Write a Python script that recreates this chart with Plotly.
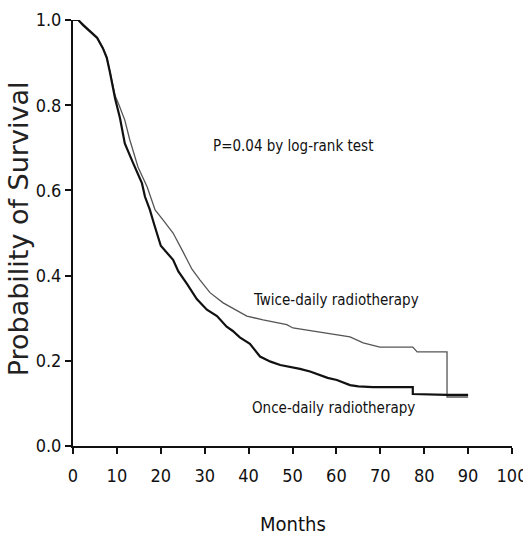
import plotly.graph_objects as go

# Kaplan-Meier estimates (months, probability of survival)
once_months = [0, 1.2, 2.3, 3.9, 5.5, 6.8, 7.7, 8.4, 9.6, 10.7, 11.8, 13.7, 15.7, 16.4, 17.5,
               18.5, 20.0, 22.8, 24.0, 26.0, 28.2, 30.5, 32.8, 35.0, 36.4, 38.0, 40.3, 42.6,
               45.0, 47.2, 50.0, 51.7, 54.0, 56.3, 58.0, 60.1, 63.1, 65.0, 68.3, 77.4, 77.4,
               85.2, 90.0]
once_surv = [1.0, 1.0, 0.988, 0.972, 0.958, 0.934, 0.911, 0.878, 0.815, 0.77, 0.71, 0.664,
             0.617, 0.585, 0.555, 0.52, 0.47, 0.437, 0.41, 0.38, 0.345, 0.32, 0.305, 0.28,
             0.27, 0.255, 0.24, 0.21, 0.198, 0.19, 0.185, 0.181, 0.175, 0.167, 0.16, 0.155,
             0.143, 0.14, 0.138, 0.138, 0.122, 0.12, 0.12]

twice_months = [0, 1.2, 2.3, 3.9, 5.5, 6.8, 7.7, 8.4, 9.6, 10.5, 11.8, 12.9, 14.8, 16.9,
                18.7, 20.5, 22.8, 25.1, 27.1, 28.9, 31.2, 34.2, 36.4, 39.6, 43.3, 46.0, 48.7,
                50.1, 55.6, 60.0, 63.1, 66.1, 69.9, 77.4, 78.4, 85.2, 85.2, 90.0]
twice_surv = [1.0, 1.0, 0.99, 0.975, 0.96, 0.935, 0.912, 0.88, 0.822, 0.80, 0.765, 0.72,
              0.655, 0.608, 0.554, 0.531, 0.50, 0.455, 0.415, 0.39, 0.36, 0.336, 0.324,
              0.305, 0.296, 0.29, 0.285, 0.277, 0.268, 0.262, 0.256, 0.242, 0.232, 0.232,
              0.221, 0.221, 0.115, 0.115]

x_ticks = [0, 10, 20, 30, 40, 50, 60, 70, 80, 90, 100]
y_ticks = [0.0, 0.2, 0.4, 0.6, 0.8, 1.0]
y_tick_text = ["0.0", "0.2", "0.4", "0.6", "0.8", "1.0"]

narrow = "DejaVu Sans Condensed, Liberation Sans Narrow, Liberation Sans, sans-serif"

fig = go.Figure()
fig.add_trace(go.Scatter(x=twice_months, y=twice_surv, mode="lines",
                         line=dict(color="#555555", width=1.3), name="Twice-daily"))
fig.add_trace(go.Scatter(x=once_months, y=once_surv, mode="lines",
                         line=dict(color="#111111", width=2.2), name="Once-daily"))

fig.update_layout(
    width=523, height=542,
    margin=dict(l=73, r=11, t=20, b=96),
    paper_bgcolor="white", plot_bgcolor="white",
    showlegend=False,
    font=dict(family=narrow, color="#111111"),
    xaxis=dict(range=[0, 100], tickvals=x_ticks, ticks="outside", ticklen=6, tickwidth=2,
               tickcolor="#111", showline=True, linecolor="#111", linewidth=2,
               showgrid=False, zeroline=False, ticklabeloverflow="allow", automargin=False,
               ticklabelstandoff=6, tickfont=dict(size=18, family=narrow)),
    yaxis=dict(range=[0, 1], tickvals=y_ticks, ticktext=y_tick_text, ticks="outside",
               ticklen=6, tickwidth=2, tickcolor="#111", showline=True, linecolor="#111",
               linewidth=2, showgrid=False, zeroline=False, ticklabeloverflow="allow",
               automargin=False, tickfont=dict(size=18, family=narrow)),
)

fig.add_annotation(text="Probability of Survival", xref="paper", yref="paper",
                   x=-0.125, y=0.509, xanchor="center", yanchor="middle", textangle=-90,
                   showarrow=False,
                   font=dict(size=27, family="DejaVu Sans, sans-serif", color="#222"))
fig.add_annotation(text="Months", xref="paper", yref="paper", x=0.5, y=-0.183,
                   xanchor="center", yanchor="middle", showarrow=False,
                   font=dict(size=20, family=narrow))
fig.add_annotation(text="P=0.04 by log-rank test", x=50.2, y=0.704, showarrow=False,
                   xanchor="center", yanchor="middle", font=dict(size=15, family=narrow))
fig.add_annotation(text="Twice-daily radiotherapy", x=59.9, y=0.343, showarrow=False,
                   xanchor="center", yanchor="middle", font=dict(size=15, family=narrow))
fig.add_annotation(text="Once-daily radiotherapy", x=59.3, y=0.089, showarrow=False,
                   xanchor="center", yanchor="middle", font=dict(size=15, family=narrow))

fig.write_html("out.html")
